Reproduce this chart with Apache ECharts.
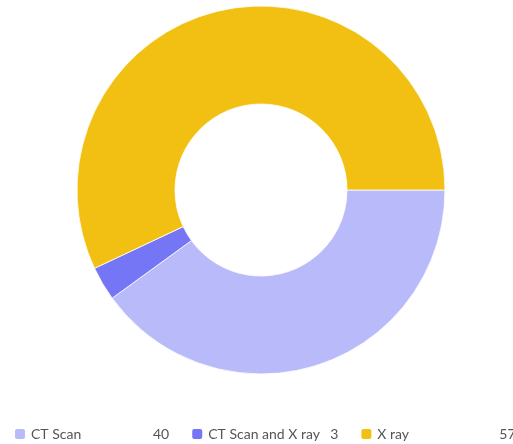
<!DOCTYPE html>
<html>
<head>
<meta charset="utf-8">
<style>
  html, body { margin: 0; padding: 0; background: #fff; }
  #chart { width: 513px; height: 444px; }
</style>
<script src="https://cdn.jsdelivr.net/npm/echarts@6/dist/echarts.min.js"></script>
</head>
<body>
<div id="chart"></div>
<script>
// Imaging modality counts
const categories = ['CT Scan', 'CT Scan and X ray', 'X ray'];
const counts = [40, 3, 57];
const colors = ['#b9bafa', '#7576f6', '#f2c012'];

const chart = echarts.init(document.getElementById('chart'));
const valueOf = {};
categories.forEach((c, i) => { valueOf[c] = counts[i]; });

chart.setOption({
  animation: false,
  color: colors,
  legend: {
    left: 8,
    top: 422,
    width: 700,
    itemWidth: 12,
    itemHeight: 12,
    itemGap: 21,
    icon: 'roundRect',
    textStyle: {
      fontFamily: 'Lato',
      fontSize: 14,
      color: '#555',
      rich: {
        n: { width: 122, fontFamily: 'Lato', fontSize: 14, color: '#555' },
        v: { fontFamily: 'Lato', fontSize: 14, color: '#555' }
      }
    },
    formatter: name => `{n|${name}}{v|${valueOf[name]}}`
  },
  series: [{
    type: 'pie',
    center: [261, 190],
    radius: [86, 184],
    startAngle: 0,
    clockwise: true,
    label: { show: false },
    labelLine: { show: false },
    emphasis: { disabled: true },
    itemStyle: { borderColor: '#fff', borderWidth: 0.8 },
    data: categories.map((c, i) => ({ name: c, value: counts[i] }))
  }]
});
</script>
</body>
</html>
